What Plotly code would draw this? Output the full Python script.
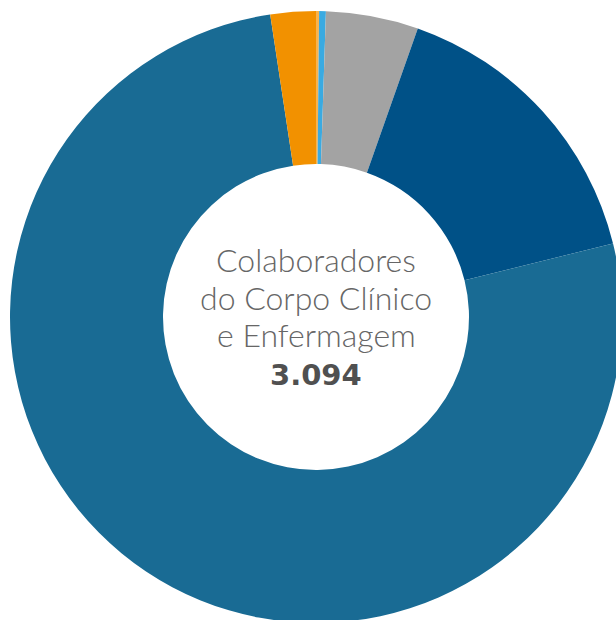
import plotly.graph_objects as go

categories = ["Categoria A", "Categoria B", "Categoria C", "Categoria D", "Categoria E", "Categoria F"]
values = [5, 11, 151, 487, 2366, 74]
colors = ["#f8b34d", "#3aaae1", "#a3a3a3", "#005187", "#196b94", "#f29100"]
center_lines = ["Colaboradores", "do Corpo Clínico", "e Enfermagem"]
total_label = "3.094"

W, H = 632, 634
cx, cy, R = 316, 317, 306

fig = go.Figure(go.Pie(
    labels=categories,
    values=values,
    marker=dict(colors=colors, line=dict(width=0)),
    hole=0.5,
    sort=False,
    direction="clockwise",
    rotation=0,
    textinfo="none",
    hoverinfo="label+value+percent",
    domain=dict(x=[(cx - R) / W, (cx + R) / W], y=[(H - cy - R) / H, (H - cy + R) / H]),
    showlegend=False,
))

line_y = [259, 297, 334]
ann = []
for t, py in zip(center_lines, line_y):
    ann.append(dict(text=t, x=cx / W, y=1 - py / H, xref="paper", yref="paper",
                    xanchor="center", yanchor="middle", showarrow=False,
                    font=dict(family="Lato", size=32, color="#666666", weight=300)))
ann.append(dict(text="<b>" + total_label + "</b>", x=cx / W, y=1 - 375 / H, xref="paper", yref="paper",
                xanchor="center", yanchor="middle", showarrow=False,
                font=dict(family="DejaVu Sans", size=29, color="#505050")))

fig.update_layout(width=W, height=H, margin=dict(l=0, r=0, t=0, b=0),
                  paper_bgcolor="white", plot_bgcolor="white", annotations=ann)

fig.write_html("out.html", config={"displayModeBar": False},
               post_script="document.body.style.margin='0';document.body.style.overflow='hidden';")
